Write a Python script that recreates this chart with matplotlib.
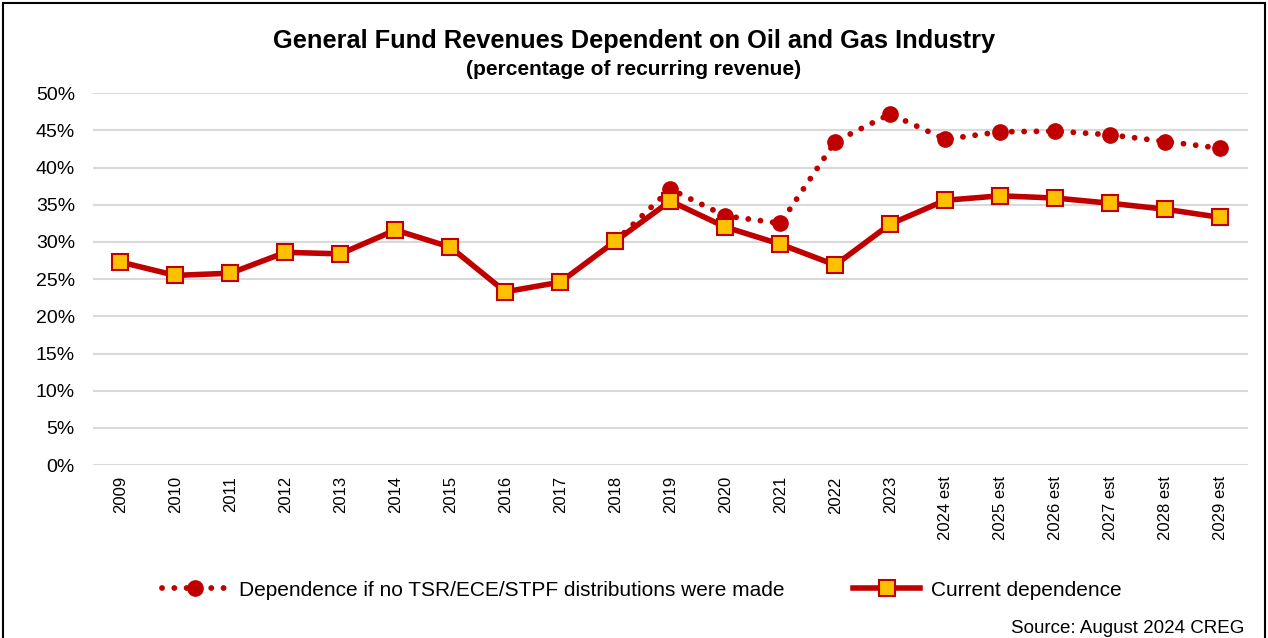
import matplotlib.pyplot as plt
import numpy as np

plt.rcParams['font.family'] = ['Liberation Sans', 'DejaVu Sans']

years = ['2009', '2010', '2011', '2012', '2013', '2014', '2015', '2016', '2017', '2018',
         '2019', '2020', '2021', '2022', '2023', '2024 est', '2025 est', '2026 est',
         '2027 est', '2028 est', '2029 est']

# current dependence (percent)
current = [27.3, 25.5, 25.8, 28.6, 28.4, 31.6, 29.3, 23.3, 24.6, 30.1,
           35.5, 32.0, 29.7, 26.9, 32.4, 35.6, 36.2, 35.9, 35.2, 34.4, 33.3]

# dependence if no TSR/ECE/STPF distributions were made
# (same as current before 2018, hidden under the solid line)
no_dist = [None, None, None, None, None, None, None, None, None, 30.1,
           37.1, 33.5, 32.5, 43.5, 47.2, 43.8, 44.8, 44.9, 44.4, 43.5, 42.6]

red = '#C00000'
gold = '#FFC000'

fig = plt.figure(figsize=(12.68, 6.38), dpi=100)
ax = fig.add_axes([0.0733, 0.271, 0.9107, 0.583])

x = np.arange(len(years))
cur = np.array(current) / 100
nod = np.array([np.nan if v is None else v for v in no_dist]) / 100

ax.plot(x, nod, linestyle=(0, (0.01, 2.1)), dash_capstyle='round', lw=4.2, color=red,
        marker='o', markersize=11, markerfacecolor=red, markeredgecolor=red,
        markevery=list(range(10, len(years))), zorder=2,
        label='Dependence if no TSR/ECE/STPF distributions were made')
ax.plot(x, cur, '-', lw=4.0, color=red, marker='s', markersize=12,
        markerfacecolor=gold, markeredgecolor=red, markeredgewidth=1.5, zorder=3,
        label='Current dependence')

ax.set_xlim(-0.5, len(years) - 0.5)
ax.set_ylim(0, 0.5)
yt = np.arange(0, 0.51, 0.05)
ax.set_yticks(yt)
ax.set_yticklabels([f'{int(round(v * 100))}%' for v in yt], fontsize=14)
ax.set_xticks(x)
ax.set_xticklabels(years, rotation=90, fontsize=12)
ax.tick_params(axis='y', length=0, pad=13)
ax.tick_params(axis='x', length=0, pad=8)
ax.grid(axis='y', color='#D9D9D9', lw=1.5, zorder=0)
ax.set_axisbelow(True)
for s in ax.spines.values():
    s.set_visible(False)

fig.text(0.5, 0.935, 'General Fund Revenues Dependent on Oil and Gas Industry',
         ha='center', va='center', fontsize=18.3, fontweight='bold')
fig.text(0.5, 0.891, '(percentage of recurring revenue)',
         ha='center', va='center', fontsize=15, fontweight='bold')

leg = fig.legend(loc='center', bbox_to_anchor=(0.506, 0.075), ncol=2, frameon=False,
                 fontsize=15, handlelength=3.2, columnspacing=3.3, handletextpad=0.5)

fig.text(0.981, 0.015, 'Source: August 2024 CREG', ha='right', va='center', fontsize=13.5)

fig.patches.append(plt.Rectangle((0.002, -0.01), 0.996, 1.005, transform=fig.transFigure,
                                 fill=False, edgecolor='black', lw=1.5))

plt.savefig('out.png', dpi=100)
